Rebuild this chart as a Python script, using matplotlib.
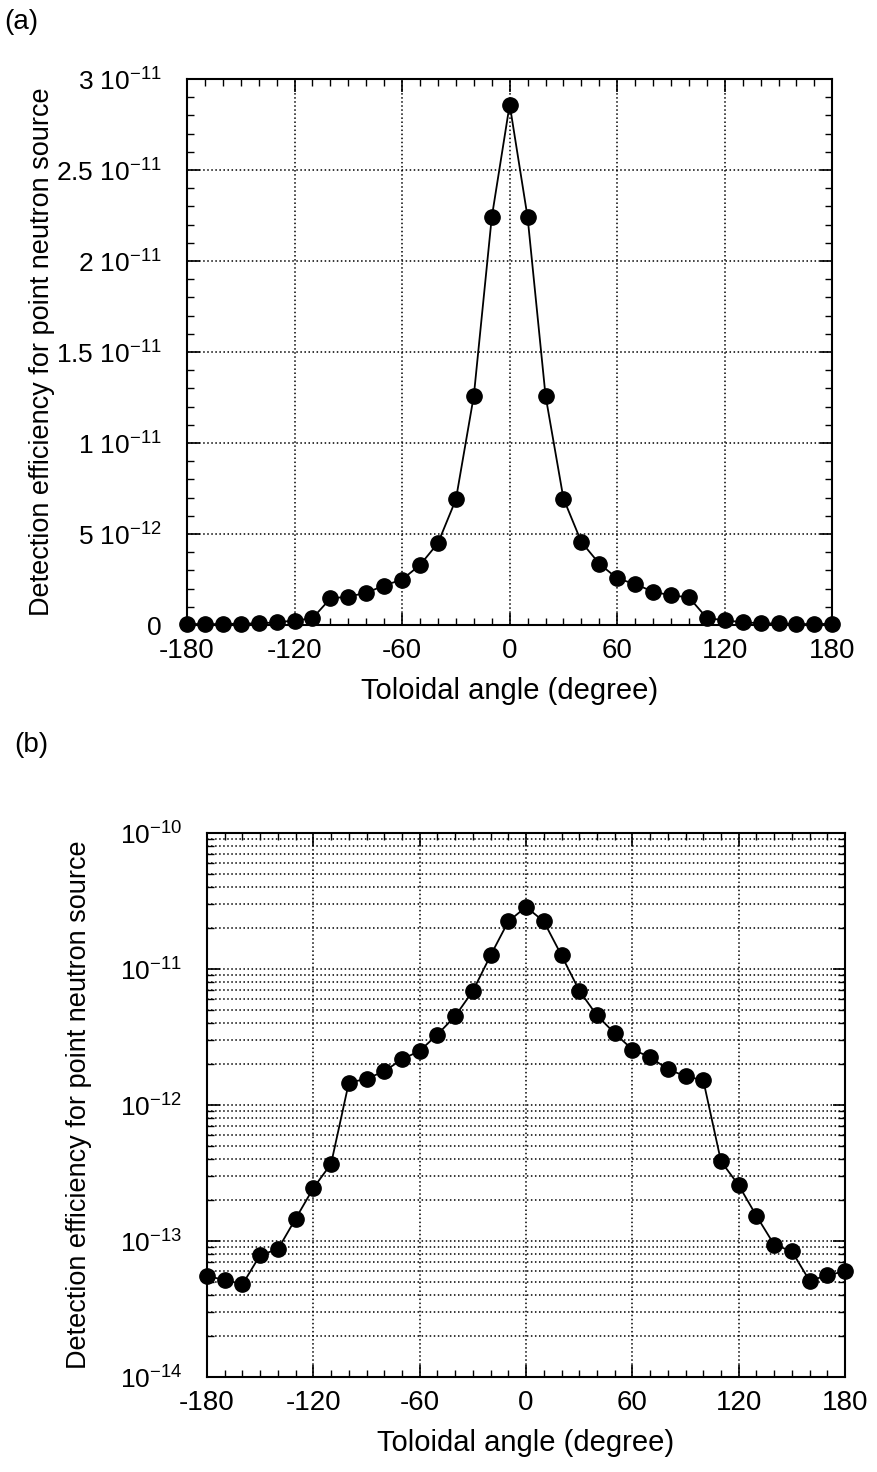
import matplotlib
matplotlib.use("Agg")
import matplotlib.pyplot as plt
from matplotlib.ticker import MultipleLocator, FixedLocator, LogLocator, NullFormatter
import numpy as np

plt.rcParams['font.family'] = ['Liberation Sans', 'DejaVu Sans']
plt.rcParams['mathtext.default'] = 'regular'
plt.rcParams['axes.unicode_minus'] = False
plt.rcParams['font.size'] = 20

# toroidal angle (degree) and detection efficiency
angle = [-180, -170, -160, -150, -140, -130, -120, -110, -100, -90,
         -80, -70, -60, -50, -40, -30, -20, -10, 0,
         10, 20, 30, 40, 50, 60, 70, 80, 90, 100,
         110, 120, 130, 140, 150, 160, 170, 180]
eff = [5.5e-14, 5.2e-14, 4.8e-14, 7.9e-14, 8.7e-14, 1.46e-13, 2.45e-13, 3.7e-13, 1.46e-12, 1.56e-12,
       1.77e-12, 2.17e-12, 2.5e-12, 3.3e-12, 4.5e-12, 6.9e-12, 1.26e-11, 2.24e-11, 2.86e-11,
       2.24e-11, 1.26e-11, 6.95e-12, 4.56e-12, 3.37e-12, 2.56e-12, 2.25e-12, 1.83e-12, 1.63e-12, 1.52e-12,
       3.85e-13, 2.57e-13, 1.53e-13, 9.4e-14, 8.4e-14, 5.1e-14, 5.6e-14, 6.0e-14]

lin_ticks = [0, 5e-12, 1e-11, 1.5e-11, 2e-11, 2.5e-11, 3e-11]
lin_labels = ['0', r'5 10$^{-12}$', r'1 10$^{-11}$', r'1.5 10$^{-11}$',
              r'2 10$^{-11}$', r'2.5 10$^{-11}$', r'3 10$^{-11}$']
x_ticks = [-180, -120, -60, 0, 60, 120, 180]

fig = plt.figure(figsize=(8.78, 14.72), dpi=100)
ax1 = fig.add_axes([0.213, 0.5754, 0.735, 0.3709])
ax2 = fig.add_axes([0.2358, 0.0645, 0.7267, 0.3696])

for ax in (ax1, ax2):
    ax.plot(angle, eff, '-o', color='black', lw=1.3, markersize=11, clip_on=False, zorder=3)
    ax.set_xlim(-180, 180)
    ax.xaxis.set_major_locator(FixedLocator(x_ticks))
    ax.xaxis.set_minor_locator(MultipleLocator(10))
    ax.tick_params(which='both', direction='in', top=True, right=True)
    ax.tick_params(axis='x', pad=9, labelsize=20)
    ax.tick_params(axis='y', pad=18, labelsize=19)
    ax.tick_params(which='major', length=9, width=1.2)
    ax.tick_params(which='minor', length=5, width=1.0)
    for s in ax.spines.values():
        s.set_linewidth(1.5)
    ax.set_xlabel('Toloidal angle (degree)', fontsize=21, labelpad=10)
    ax.set_ylabel('Detection efficiency for point neutron source', fontsize=19.5)

# (a) linear scale
ax1.set_ylim(0, 3e-11)
ax1.set_yticks(lin_ticks)
ax1.set_yticklabels(lin_labels)
ax1.yaxis.set_minor_locator(MultipleLocator(1e-12))
ax1.grid(True, which='major', color='black', linestyle=':', linewidth=1.1)
ax1.yaxis.set_label_coords(-0.205, 0.5)

# (b) log scale
ax2.set_yscale('log')
ax2.set_ylim(1e-14, 1e-10)
ax2.yaxis.set_major_locator(LogLocator(base=10, numticks=10))
ax2.yaxis.set_minor_locator(LogLocator(base=10, subs=np.arange(2, 10), numticks=20))
ax2.yaxis.set_minor_formatter(NullFormatter())
ax2.grid(True, which='major', axis='x', color='black', linestyle=':', linewidth=1.1)
ax2.grid(True, which='both', axis='y', color='black', linestyle=':', linewidth=1.1)
ax2.yaxis.set_label_coords(-0.18, 0.5)

fig.text(0.005, 0.985, '(a)', fontsize=20, ha='left', va='center')
fig.text(0.016, 0.494, '(b)', fontsize=20, ha='left', va='center')

fig.savefig('out.png', dpi=100)
